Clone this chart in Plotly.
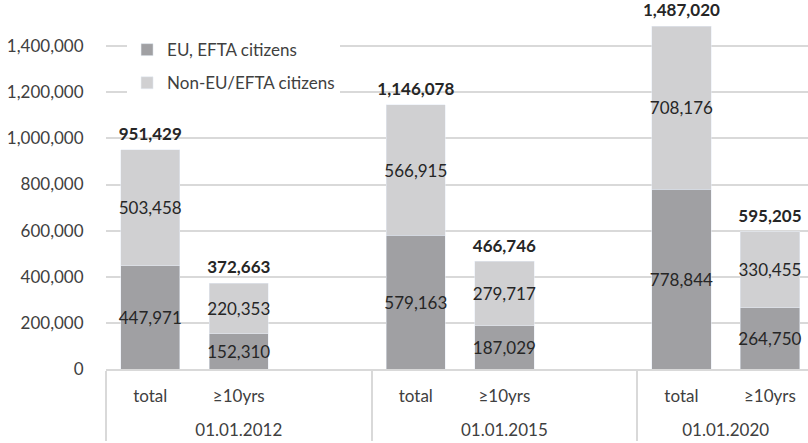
import plotly.graph_objects as go

dates = ["01.01.2012", "01.01.2015", "01.01.2020"]
subcats = ["total", "≥10yrs"]
eu = [447971, 152310, 579163, 187029, 778844, 264750]
non_eu = [503458, 220353, 566915, 279717, 708176, 330455]
totals = [951429, 372663, 1146078, 466746, 1487020, 595205]
yticks = [0, 200000, 400000, 600000, 800000, 1000000, 1200000, 1400000]

# sub-category tick text gets an extra blank line so the date row sits lower
sub_lbl = [s + "<br>\u00a0" for s in subcats]
spacer = "\u00a0"

lvl0, lvl1 = [], []
for d in dates:
    for s in sub_lbl:
        lvl0.append(d); lvl1.append(s)
x_bars = [lvl0, lvl1]
all0, all1 = [], []
for i, d in enumerate(dates):
    for s in sub_lbl:
        all0.append(d); all1.append(s)
    if i < len(dates) - 1:
        all0.append(d); all1.append(spacer)

FONT = "Lato"
TXT = "#262626"
C_EU = "#a0a0a3"
C_NON = "#d0d0d2"

def fmt(v):
    return f"{v:,}"

fig = go.Figure()
# invisible trace to register spacer categories in order
fig.add_trace(go.Bar(x=[all0, all1], y=[0] * len(all0), showlegend=False,
                     marker_color="rgba(0,0,0,0)", hoverinfo="skip"))
fig.add_trace(go.Bar(x=x_bars, y=eu, name="EU, EFTA citizens", marker_color=C_EU,
                     text=[fmt(v) for v in eu], textposition="inside", textangle=0,
                     insidetextanchor="middle", constraintext="none",
                     textfont=dict(family=FONT, size=17, color=TXT),
                     legendgroup="a"))
fig.add_trace(go.Bar(x=x_bars, y=non_eu, name="Non-EU/EFTA citizens", marker_color=C_NON,
                     text=[fmt(v) for v in non_eu], textposition="inside", textangle=0,
                     insidetextanchor="middle", constraintext="none",
                     textfont=dict(family=FONT, size=17, color=TXT),
                     legendgroup="b"))
fig.add_trace(go.Scatter(x=x_bars, y=totals, mode="markers+text",
                         marker=dict(size=7, color="rgba(0,0,0,0)"),
                         text=[f"<b>{fmt(v)}</b>" for v in totals],
                         textposition="top center", cliponaxis=False,
                         textfont=dict(family=FONT, size=17, color=TXT),
                         showlegend=False, hoverinfo="skip"))

fig.update_layout(
    width=808, height=443,
    margin=dict(l=106, r=0, t=0, b=74),
    barmode="stack", bargap=0.33,
    plot_bgcolor="white", paper_bgcolor="white",
    font=dict(family=FONT, size=17, color="#404040"),
    uniformtext=dict(mode="show", minsize=17),
    legend=dict(x=0.03, y=0.913, xanchor="left", yanchor="top",
                bgcolor="white", font=dict(family=FONT, size=17, color="#404040"),
                traceorder="grouped", tracegroupgap=8),
    showlegend=True,
)
fig.update_yaxes(range=[0, 1600000], tickvals=yticks,
                 ticktext=[fmt(v) for v in yticks],
                 showgrid=True, gridcolor="#d9d9d9", gridwidth=1.5,
                 zeroline=False, ticks="outside", ticklen=18, tickcolor="rgba(0,0,0,0)",
                 tickfont=dict(family=FONT, size=17, color="#404040"))
fig.update_xaxes(type="multicategory", range=[-0.5, 7.43],
                 showline=True, linecolor="#d9d9d9", linewidth=1.5,
                 ticklabelstandoff=11,
                 showdividers=True, dividercolor="#d9d9d9", dividerwidth=1.5,
                 tickfont=dict(family=FONT, size=17, color="#404040"))

fig.write_html("out.html")
